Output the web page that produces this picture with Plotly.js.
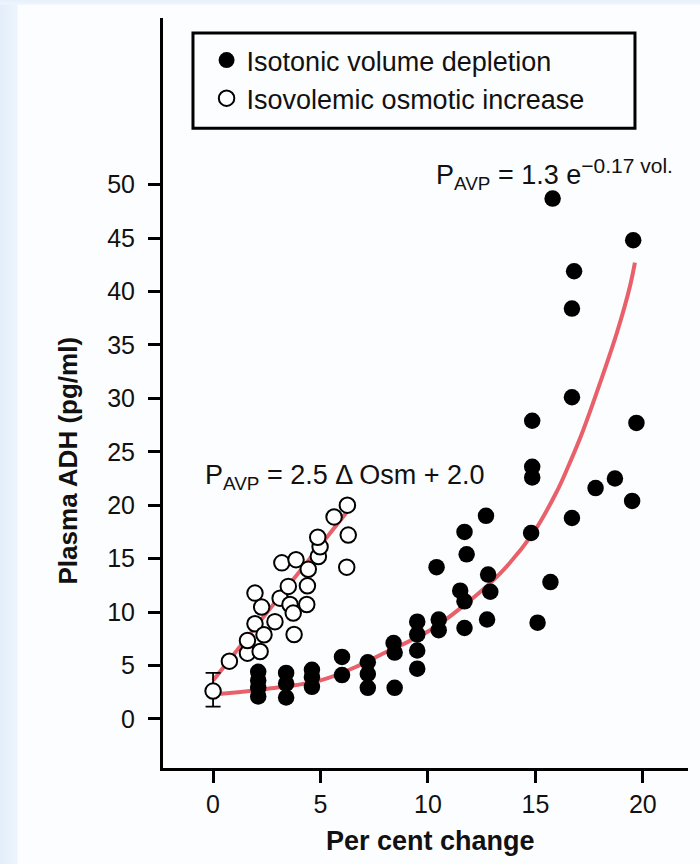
<!DOCTYPE html>
<html>
<head>
<meta charset="utf-8">
<script src="https://cdn.plot.ly/plotly-3.0.1.min.js"></script>
<style>
  html, body { margin: 0; padding: 0; }
  body {
    width: 700px; height: 864px; overflow: hidden;
    background:
      linear-gradient(to bottom, #e6f0fb 0px, #eef5fd 4px, rgba(255,255,255,0) 5px),
      linear-gradient(to right, #e3eefa 0px, #edf4fc 17px, #fcfdfe 18px, #fcfdfe 100%);
  }
  #chart { width: 700px; height: 864px; }
</style>
</head>
<body>
<div id="chart"></div>
<script>
// Isotonic volume depletion (filled circles)
const filledX = [2.1, 2.1, 2.1, 2.1,
                 3.4, 3.4, 3.4,
                 4.6, 4.6, 4.6,
                 6.0, 6.0,
                 7.2, 7.2, 7.2,
                 8.4, 8.45, 8.45,
                 9.5, 9.5, 9.5, 9.5,
                 10.5, 10.5, 10.4,
                 11.5, 11.7, 11.7, 11.7, 11.8,
                 12.7, 12.8, 12.9, 12.75,
                 14.8, 14.85, 14.85, 14.85,
                 15.1, 15.7, 15.8,
                 16.7, 16.7, 16.7, 16.8,
                 17.8, 18.7, 19.5, 19.55, 19.7];
const filledY = [4.4, 3.6, 2.9, 2.1,
                 4.3, 3.3, 2.0,
                 4.6, 3.9, 3.0,
                 5.8, 4.1,
                 5.3, 4.2, 2.9,
                 7.1, 6.2, 2.9,
                 9.1, 7.9, 6.4, 4.7,
                 9.3, 8.3, 14.2,
                 12.0, 11.0, 8.5, 17.5, 15.4,
                 19.0, 13.5, 11.9, 9.3,
                 17.4, 22.6, 23.6, 27.9,
                 9.0, 12.8, 48.7,
                 18.8, 30.1, 38.4, 41.9,
                 21.6, 22.5, 20.4, 44.8, 27.7];

// Isovolemic osmotic increase (open circles)
const openX = [0.76, 1.6, 1.6, 2.19, 1.95, 1.95, 2.26, 2.37, 2.88, 3.12, 3.5, 3.2, 3.86,
               3.58, 3.73, 3.77, 4.39, 4.43, 4.36, 4.9, 4.98, 4.87, 5.63, 6.25, 6.29, 6.22];
const openY = [5.4, 6.15, 7.33, 6.3, 8.9, 11.77, 10.46, 7.87, 9.1, 11.3, 12.4, 14.6, 14.9,
               10.7, 9.9, 7.9, 12.45, 14.0, 10.7, 15.2, 16.1, 17.0, 18.9, 20.0, 17.2, 14.2];

// Baseline point with error bar
const baseX = [0];
const baseY = [2.6];
const baseErrPlus = [1.7];
const baseErrMinus = [1.45];

// Fitted curves
const expCurveX = [0.1, 2.5, 5.0, 6.8, 7.8, 10.1, 11.6, 13.35, 14.9, 16.0, 16.5, 17.2, 18.0, 18.8, 19.4, 19.63];
const expCurveY = [2.3, 2.8, 3.6, 5.0, 6.0, 8.3, 10.5, 13.6, 17.4, 21.3, 23.5, 26.9, 31.4, 36.2, 40.5, 42.7];
const linFitX = [0.0, 6.2];
const linFitY = [3.6, 19.3];

const tickVX = [0, 5, 10, 15, 20];
const tickVY = [0, 5, 10, 15, 20, 25, 30, 35, 40, 45, 50];

const eqTop = 'P<sub>AVP</sub> = 1.3 e<sup><span style="font-size:21px">\u22120.17 vol.</span></sup>';
const eqMid = 'P<sub>AVP</sub> = 2.5 \u0394 Osm + 2.0';
const xTitle = '<b>Per cent change</b>';
const yTitle = '<b>Plasma ADH (pg/ml)</b>';
const nameFilled = 'Isotonic volume depletion';
const nameOpen = 'Isovolemic osmotic increase';

const red = '#e8606a';
const font = 'Liberation Sans, Arial, sans-serif';

const traces = [
  { x: expCurveX, y: expCurveY, mode: 'lines', line: { color: red, width: 4, shape: 'spline', smoothing: 1 },
    showlegend: false, hoverinfo: 'skip' },
  { x: linFitX, y: linFitY, mode: 'lines', line: { color: red, width: 4 },
    showlegend: false, hoverinfo: 'skip' },
  { x: filledX, y: filledY, mode: 'markers', name: nameFilled,
    marker: { symbol: 'circle', size: 16.5, color: '#000', line: { width: 0 } } },
  { x: openX, y: openY, mode: 'markers', name: nameOpen,
    marker: { symbol: 'circle', size: 15.5, color: '#fff', line: { color: '#000', width: 2 } } },
  { x: baseX, y: baseY, mode: 'markers', showlegend: false,
    error_y: { type: 'data', symmetric: false, array: baseErrPlus, arrayminus: baseErrMinus,
               color: '#000', thickness: 1.8, width: 7.5 },
    marker: { symbol: 'circle', size: 15.5, color: '#fff', line: { color: '#000', width: 2 } } }
];

const layout = {
  width: 700, height: 864,
  margin: { l: 163, r: 12, t: 18, b: 96 },
  paper_bgcolor: 'rgba(0,0,0,0)',
  plot_bgcolor: 'rgba(0,0,0,0)',
  font: { family: font, color: '#111', size: 24 },
  showlegend: true,
  legend: {
    x: 0.083, y: 0.976, xanchor: 'left', yanchor: 'top',
    bgcolor: 'rgba(0,0,0,0)', borderwidth: 0,
    font: { family: font, size: 27, color: '#111' },
    itemsizing: 'trace', tracegroupgap: 0
  },
  xaxis: {
    range: [-2.33, 22.1], tickvals: tickVX, ticktext: tickVX.map(String),
    showline: true, linecolor: '#000', linewidth: 3,
    ticks: 'outside', ticklen: 12, tickwidth: 3, tickcolor: '#000',
    showgrid: false, zeroline: false,
    tickfont: { family: font, size: 25, color: '#111' }
  },
  yaxis: {
    range: [-4.6, 65.6], tickvals: tickVY, ticktext: tickVY.map(String),
    showline: true, linecolor: '#000', linewidth: 3,
    ticks: 'outside', ticklen: 12, tickwidth: 3, tickcolor: '#000',
    showgrid: false, zeroline: false, ticklabelstandoff: 8,
    tickfont: { family: font, size: 25, color: '#111' }
  },
  shapes: [
    { type: 'rect', xref: 'paper', yref: 'paper',
      x0: 0.0571, x1: 0.899, y0: 0.853, y1: 0.98,
      line: { color: '#000', width: 3 }, fillcolor: 'rgba(0,0,0,0)' }
  ],
  annotations: [
    { x: 10.3, y: 51.0, xref: 'x', yref: 'y', xanchor: 'left', yanchor: 'middle',
      text: eqTop, showarrow: false, font: { family: font, size: 27, color: '#111' } },
    { x: -0.45, y: 22.6, xref: 'x', yref: 'y', xanchor: 'left', yanchor: 'middle',
      text: eqMid, showarrow: false, font: { family: font, size: 27, color: '#111' } },
    { x: 0.51, y: -0.097, xref: 'paper', yref: 'paper', xanchor: 'center', yanchor: 'middle',
      text: xTitle, showarrow: false, font: { family: font, size: 27, color: '#111' } },
    { x: -0.181, y: 0.41, xref: 'paper', yref: 'paper', xanchor: 'center', yanchor: 'middle',
      textangle: -90, text: yTitle, showarrow: false, font: { family: font, size: 26, color: '#111' } }
  ]
};

Plotly.newPlot('chart', traces, layout, { displayModeBar: false, staticPlot: true });
</script>
</body>
</html>
